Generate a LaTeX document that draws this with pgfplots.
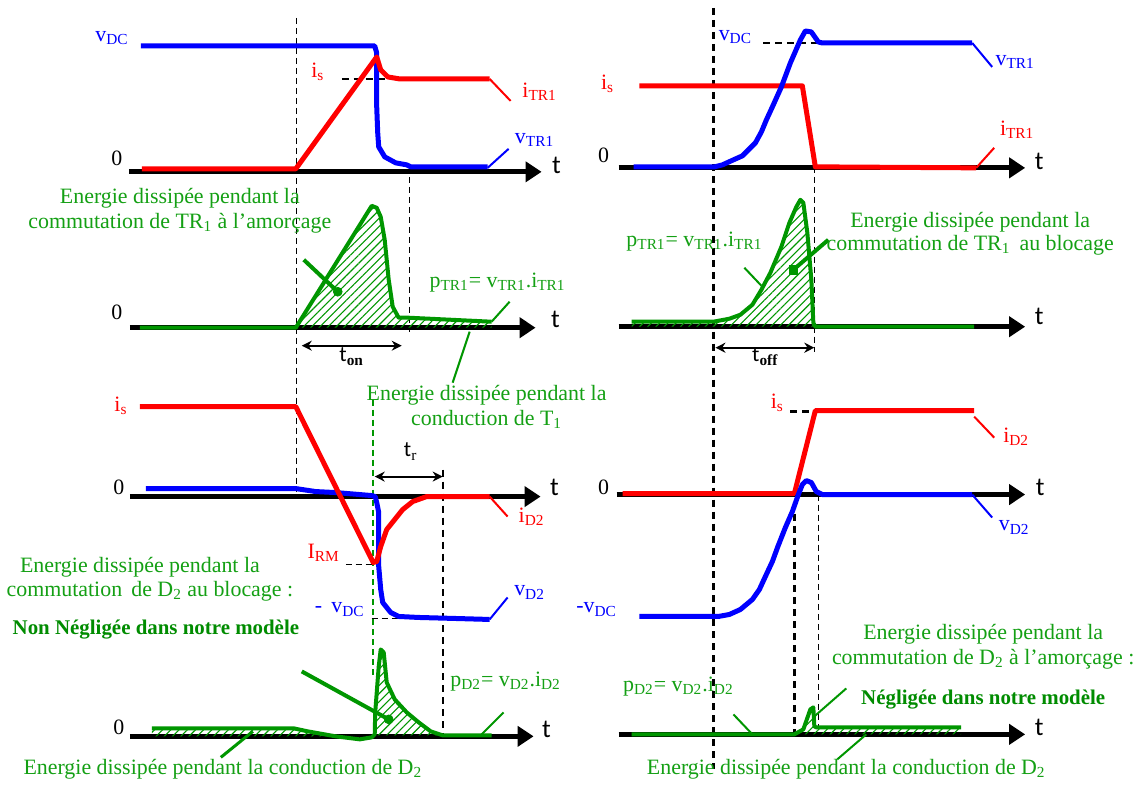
\documentclass[border=0pt]{standalone}
\usepackage{pgfplots}
\pgfplotsset{compat=1.18}
\usepackage{fontspec}
\setmainfont{Liberation Serif}
\setsansfont{Carlito}
\usetikzlibrary{arrows.meta,patterns.meta}
\definecolor{cred}{RGB}{255,0,0}
\definecolor{cblue}{RGB}{0,0,255}
\definecolor{cgreen}{RGB}{0,150,0}
\definecolor{tgreen}{RGB}{20,160,20}
\definecolor{bgreen}{RGB}{0,140,0}
\tikzset{
  ax/.style={black, line width=2.5bp, -{Triangle[length=8bp,width=10bp]}},
  thk/.style={line width=2.5bp},
  thn/.style={line width=1bp},
  gr/.style={cgreen, line width=2bp},
  hatch/.style={draw=none, pattern={Lines[angle=45,distance=2.9bp,line width=0.55bp]}, pattern color=cgreen},
  dsh/.style={black, line width=0.7bp, dash pattern=on 3bp off 2bp},
  dshk/.style={black, line width=1.4bp, dash pattern=on 3.5bp off 2.5bp},
  dbl/.style={black, line width=1bp, {Stealth[length=5bp,width=5bp]}-{Stealth[length=5bp,width=5bp]}},
  lbl/.style={font=\fontsize{11}{13}\selectfont},
  gtxt/.style={text=tgreen, font=\fontsize{11}{13}\selectfont},
  ttxt/.style={font=\sffamily\fontsize{13}{15}\selectfont},
}
\begin{document}
\begin{tikzpicture}
\begin{axis}[scale only axis, width=570.5bp, height=392bp,
  xmin=0, xmax=1141, ymin=0, ymax=784, y dir=reverse, hide axis, clip=false,
  every axis plot/.append style={line join=round},
]
\fill[white] (axis cs:0,0) rectangle (axis cs:1141,784);

% ---------------- dashed verticals
\addplot[dsh] coordinates {(297,18) (297,492)};
\addplot[dsh] coordinates {(410,167) (410,332)};
\addplot[dshk] coordinates {(714,8) (714,770)};
\addplot[dsh] coordinates {(815,167) (815,352)};
\addplot[cgreen, line width=1bp, dash pattern=on 3bp off 2bp] coordinates {(373,400) (373,678)};
\addplot[dshk, line width=1bp] coordinates {(443,470) (443,735)};
\addplot[dshk] coordinates {(795,490) (795,735)};
\addplot[dsh] coordinates {(819,495) (819,728)};

% ---------------- panel TL
\addplot[ax] coordinates {(129,172) (542,172)};
\addplot[dshk] coordinates {(342,79) (401,79)};
\addplot[cblue, thk] coordinates {(141,46) (375,46) (377,53) (377,107) (378,133) (379,147) (385,157) (396,163) (407,165) (411,167) (488,167)};
\addplot[cblue, thn] coordinates {(488,168) (509,149)};
\addplot[cred, thk] coordinates {(142,169) (296,169) (377,57) (381,70) (388,77) (400,79) (490,79)};
\addplot[cred, thn] coordinates {(490,79) (511,101)};
\node[lbl, text=cblue] at (axis cs:112,38) {v\textsubscript{DC}};
\node[lbl] at (axis cs:117,158) {0};
\node[lbl, text=cred] at (axis cs:318,72) {i\textsubscript{s}};
\node[lbl, text=cred] at (axis cs:540,92) {i\textsubscript{TR1}};
\node[lbl, text=cblue] at (axis cs:535,140) {v\textsubscript{TR1}};
\node[ttxt] at (axis cs:557,166) {t};

% ---------------- panel ML
\addplot[ax] coordinates {(130,328) (536,328)};
\addplot[hatch] coordinates {(296,328) (372,206) (377,208) (381,217) (385,240) (389,280) (393,307) (399,318) (409,318) (492,322) (492,328)};
\addplot[gr] coordinates {(140,328) (296,328) (372,206) (377,208) (381,217) (385,240) (389,280) (393,307) (399,318) (409,318) (492,322)};
\addplot[cgreen, thn] coordinates {(492,322) (510,302)};
\addplot[gr] coordinates {(304,260) (338,292)};
\addplot[only marks, mark=*, mark size=2.2bp, cgreen] coordinates {(338,292)};
\addplot[dbl] coordinates {(302,346) (402,346)};
\addplot[cgreen, thn] coordinates {(470,332) (453,383)};
\node[gtxt] at (axis cs:180,198) {Energie dissipée pendant la};
\node[gtxt] at (axis cs:180,223) {commutation de TR\textsubscript{1} à l’amorçage};
\node[lbl] at (axis cs:117,313) {0};
\node[ttxt] at (axis cs:556,320) {t};
\node[gtxt] at (axis cs:498,283) {p\textsubscript{TR1}= v\textsubscript{TR1}.i\textsubscript{TR1}};
\node[lbl] at (axis cs:352,357) {\sffamily t\rmfamily\textsubscript{\textbf{on}}};
\node[gtxt] at (axis cs:487,396) {Energie dissipée pendant la};
\node[gtxt] at (axis cs:487,420) {conduction de T\textsubscript{1}};

% ---------------- panel TR
\addplot[ax] coordinates {(619,168) (1026,168)};
\addplot[dshk] coordinates {(764,43) (819,43)};
\addplot[cred, thk] coordinates {(640,86) (803,86) (816,167) (977,168)};
\addplot[cred, thn] coordinates {(977,168) (995,148)};
\addplot[cblue, thk] coordinates {(634,167) (715,167) (723,165) (734,160) (743,156) (756,143) (762,132) (767,120) (773,107) (782,87) (791,63) (801,40) (806,31) (812,32) (819,42) (823,43) (973,43)};
\addplot[cblue, thn] coordinates {(973,43) (993,67)};
\node[lbl, text=cblue] at (axis cs:736,37) {v\textsubscript{DC}};
\node[lbl, text=cred] at (axis cs:608,84) {i\textsubscript{s}};
\node[lbl] at (axis cs:604,155) {0};
\node[lbl, text=cblue] at (axis cs:1016,62) {v\textsubscript{TR1}};
\node[lbl, text=cred] at (axis cs:1018,130) {i\textsubscript{TR1}};
\node[ttxt] at (axis cs:1040,162) {t};

% ---------------- panel MR
\addplot[ax] coordinates {(619,327) (1026,327)};
\addplot[hatch] coordinates {(632,322) (714,322) (730,319) (741,315) (753,305) (762,290) (771,273) (782,247) (790,223) (797,207) (801,200) (804,203) (808,233) (812,280) (814,323) (816,327) (632,327)};
\addplot[gr] coordinates {(632,322) (714,322) (730,319) (741,315) (753,305) (762,290) (771,273) (782,247) (790,223) (797,207) (801,200) (804,203) (808,233) (812,280) (814,323) (816,327) (975,327)};
\addplot[cgreen, thn] coordinates {(745,268) (762,286)};
\addplot[gr] coordinates {(794,270) (829,240)};
\addplot[only marks, mark=square*, mark size=2.2bp, cgreen] coordinates {(794,270)};
\addplot[dbl] coordinates {(716,348) (815,348)};
\node[gtxt] at (axis cs:695,242) {p\textsubscript{TR1}= v\textsubscript{TR1}.i\textsubscript{TR1}};
\node[gtxt] at (axis cs:971,222) {Energie dissipée pendant la};
\node[gtxt] at (axis cs:971,245) {commutation de TR\textsubscript{1}\, au blocage};
\node[ttxt] at (axis cs:1040,317) {t};
\node[lbl] at (axis cs:766,357) {\sffamily t\rmfamily\textsubscript{\textbf{off}}};

% ---------------- panel BL
\addplot[ax] coordinates {(130,497) (541,497)};
\addplot[dsh] coordinates {(346,565) (373,565)};
\addplot[dsh] coordinates {(372,619) (419,619)};
\addplot[cblue, thk] coordinates {(146,489) (296,489) (316,492) (336,493) (372,496) (375.5,497) (377,503) (379,513) (379,567) (381,590) (383,603) (391,613) (399,617) (419,618) (455,619) (490,620)};
\addplot[cblue, thn] coordinates {(490,620) (508,598)};
\addplot[cred, thk] coordinates {(140,407) (296,407) (373.5,563) (377,562) (381,547) (387,530) (395,520) (403,510) (413,502) (427,497) (490,497)};
\addplot[cred, thn] coordinates {(490,497) (508,517)};
\addplot[dbl] coordinates {(375,477) (443,477)};
\node[lbl, text=cred] at (axis cs:121,406) {i\textsubscript{s}};
\node[lbl] at (axis cs:119,488) {0};
\node[ttxt] at (axis cs:555,488) {t};
\node[lbl] at (axis cs:411,452) {\sffamily t\rmfamily\textsubscript{r}};
\node[lbl, text=cred] at (axis cs:324,553) {I\textsubscript{RM}};
\node[lbl, text=cred] at (axis cs:532,517) {i\textsubscript{D2}};
\node[lbl, text=cblue] at (axis cs:530,593) {v\textsubscript{D2}};
\node[lbl, text=cblue] at (axis cs:340,610) {-\, v\textsubscript{DC}};
\node[gtxt] at (axis cs:140,568) {Energie dissipée pendant la};
\node[gtxt] at (axis cs:150,592) {commutation\, de D\textsubscript{2} au blocage :};
\node[text=bgreen, font=\bfseries\fontsize{10.5}{13}\selectfont] at (axis cs:156,630) {Non Négligée dans notre modèle};

% ---------------- panel BR
\addplot[ax] coordinates {(617,495) (1026,495)};
\addplot[dshk] coordinates {(791,412) (816,412)};
\addplot[cred, thk] coordinates {(623,494) (795,494) (816,411) (975,411)};
\addplot[cred, thn] coordinates {(975,417) (995,438)};
\addplot[cblue, thk] coordinates {(640,617) (719,617) (730,615) (741,610) (753,600) (760,590) (766,577) (773,562) (778.5,547) (786,528) (793,512) (799,495) (803,485) (807,481) (812,483) (817,492) (823,495) (973,495)};
\addplot[cblue, thn] coordinates {(973,495) (993,518)};
\node[lbl, text=cred] at (axis cs:778,403) {i\textsubscript{s}};
\node[lbl] at (axis cs:604,488) {0};
\node[ttxt] at (axis cs:1041,488) {t};
\node[lbl, text=cred] at (axis cs:1017,437) {i\textsubscript{D2}};
\node[lbl, text=cblue] at (axis cs:1015,528) {v\textsubscript{D2}};
\node[lbl, text=cblue] at (axis cs:597,610) {-v\textsubscript{DC}};

% ---------------- panel BLL
\addplot[ax] coordinates {(130,737) (534,737)};
\addplot[hatch] coordinates {(152,729) (294,729) (308,732) (336,737) (152,737)};
\addplot[hatch] coordinates {(375,736) (375.5,713) (379,667) (381,650) (384,653) (387,683) (395,700) (407,713) (419,723) (431,732) (443,736)};
\addplot[gr] coordinates {(152,729) (294,729) (308,732) (336,737) (360,740) (372,738) (375,735) (375.5,713) (379,667) (381,650) (384,653) (387,683) (395,700) (407,713) (419,723) (431,732) (443,736) (492,736)};
\addplot[cgreen, thn] coordinates {(482,735) (504,713)};
\addplot[gr] coordinates {(302,672) (389,720)};
\addplot[only marks, mark=*, mark size=2.2bp, cgreen] coordinates {(389,720)};
\addplot[gr, line width=1.5bp] coordinates {(221,758) (253,732)};
\node[lbl] at (axis cs:119,728) {0};
\node[ttxt] at (axis cs:547,730) {t};
\node[gtxt] at (axis cs:506,682) {p\textsubscript{D2}= v\textsubscript{D2}.i\textsubscript{D2}};
\node[gtxt] at (axis cs:223,770) {Energie dissipée pendant la conduction de D\textsubscript{2}};

% ---------------- panel BRR
\addplot[ax] coordinates {(619,735) (1026,735)};
\addplot[hatch] coordinates {(795,735) (804,730) (811,710) (814,708) (815,727) (817,728) (962,728) (962,735)};
\addplot[gr] coordinates {(632,735) (795,735) (804,730) (811,710) (814,708) (815,727) (817,728) (962,728)};
\addplot[cgreen, thn] coordinates {(734,715) (753,735)};
\addplot[cgreen, thn] coordinates {(847,689) (815,717)};
\addplot[cgreen, thn] coordinates {(867,735) (838,760)};
\node[gtxt] at (axis cs:679,687) {p\textsubscript{D2}= v\textsubscript{D2}.i\textsubscript{D2}};
\node[ttxt] at (axis cs:1040,728) {t};
\node[gtxt] at (axis cs:984,635) {Energie dissipée pendant la};
\node[gtxt] at (axis cs:984,660) {commutation de D\textsubscript{2} à l’amorçage :};
\node[text=bgreen, font=\bfseries\fontsize{10.5}{13}\selectfont] at (axis cs:984,700) {Négligée dans notre modèle};
\node[gtxt] at (axis cs:847,770) {Energie dissipée pendant la conduction de D\textsubscript{2}};
\end{axis}
\end{tikzpicture}
\end{document}
